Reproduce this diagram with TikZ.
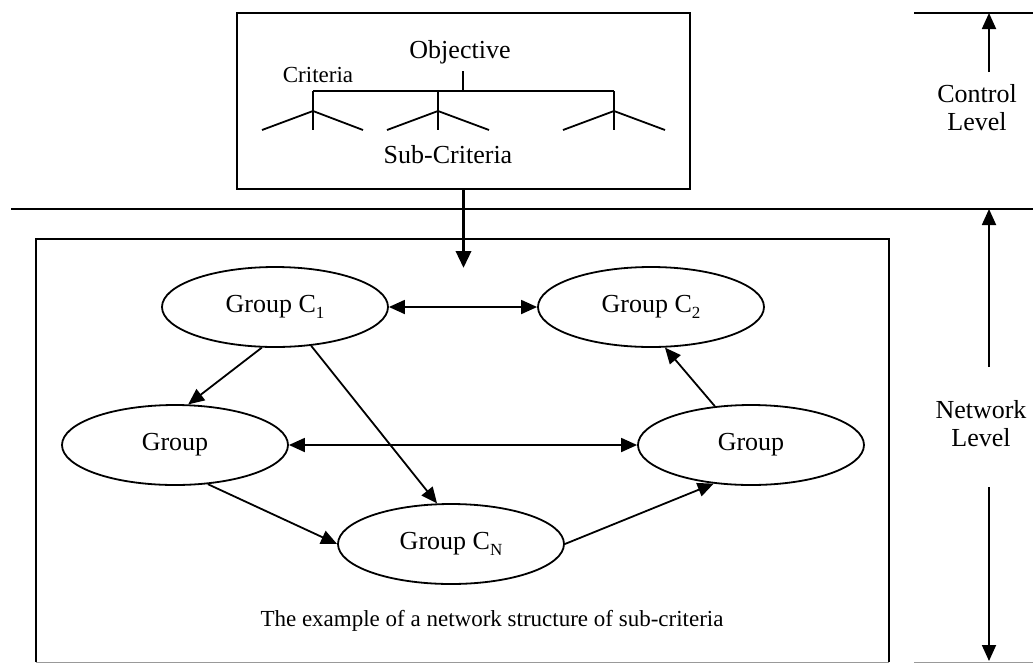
\documentclass[tikz,border=0pt]{standalone}
\usepackage{fontspec}
\setmainfont{Liberation Serif}
\usetikzlibrary{shapes.geometric,arrows.meta}
\definecolor{edgegray}{gray}{0.6}
\tikzset{
  ln/.style={line width=1.8pt, line cap=butt},
  tip/.tip={Triangle[length=16pt,width=14pt]},
  arr/.style={ln, -tip},
  darr/.style={ln, tip-tip},
  grp/.style={ellipse, draw, line width=1.8pt, inner sep=0pt, minimum width=226pt, minimum height=80pt, font=\fontsize{26}{28}\selectfont},
  box/.style={draw, line width=1.8pt, inner sep=0pt},
  big/.style={font=\fontsize{26}{28}\selectfont, inner sep=0pt, align=center},
  small/.style={font=\fontsize{23}{25}\selectfont, inner sep=0pt},
}
\newcommand{\sub}[1]{\raisebox{-6pt}{\fontsize{17}{17}\selectfont #1}}
\begin{document}
\begin{tikzpicture}[x=1pt,y=-1pt]
\useasboundingbox (0,0) rectangle (1033,662);
% control box
\node[box, minimum width=453pt, minimum height=176pt] (ctrl) at (463.5,101) {};
% network box (its bottom edge is cut by the picture's edge)
\coordinate (n1) at (36,662); \coordinate (n2) at (36,239);
\coordinate (n3) at (889,239); \coordinate (n4) at (889,662);
\draw[ln] (n1) -- (n2) -- (n3) -- (n4);
\draw[line width=1pt, edgegray] (n1) -- (n4);
% level lines
\coordinate (t1) at (914,13); \coordinate (t2) at (1033,13);
\coordinate (m1) at (11,209); \coordinate (m2) at (1033,209);
\coordinate (b1) at (914,662); \coordinate (b2) at (1033,662);
\draw[ln] (t1) -- (t2);
\draw[ln] (m1) -- (m2);
\draw[line width=1pt, edgegray] (b1) -- (b2);
% tree
\node[big] (obj) at (460,52) {Objective};
\node[small] (crit) at (318,75) {Criteria};
\node[big] (subc) at (448,155) {Sub-Criteria};
\draw[ln] (463,71) -- (463,91);
\draw[ln] (313,91) -- (614,91);
\foreach \x/\l/\r in {313/262/363, 438/387/489, 614/563/665}{
  \draw[ln] (\x,91) -- (\x,130);
  \draw[ln] (\l,130) -- (\x,111) -- (\r,130);
}
% thick arrow
\coordinate (ta) at (463.5,268);
\draw[line width=3.5pt, -{Triangle[length=17pt,width=15pt]}] (ctrl.south) -- (ta);
% groups
\node[grp] (C1) at (275,307) {Group C\sub{1}};
\node[grp] (C2) at (651,307) {Group C\sub{2}};
\node[grp] (LG) at (175,445) {Group};
\node[grp] (RG) at (751,445) {Group};
\node[grp] (CN) at (451,544) {Group C\sub{N}};
\draw[darr] (C1.east) -- (C2.west);
\draw[darr] (LG.east) -- (RG.west);
\draw[arr] (C1.252) -- (LG.72);
\draw[arr] (C1.313) -- (CN.109);
\draw[arr] (LG.310) -- (CN.west);
\draw[arr] (CN.east) -- (RG.226);
\draw[arr] (RG.133) -- (C2.289);
\node[small] (cap) at (492,621) {The example of a network structure of sub-criteria};
% level labels
\node[big] (cl) at (977,108) {Control\\Level};
\node[big] (nl) at (981,424) {Network\\Level};
\coordinate (a1s) at (989,72); \coordinate (a1e) at (989,13);
\coordinate (a2s) at (989,367); \coordinate (a2e) at (989,209);
\coordinate (a3s) at (989,487); \coordinate (a3e) at (989,661);
\draw[arr] (a1s) -- (a1e);
\draw[arr] (a2s) -- (a2e);
\draw[arr] (a3s) -- (a3e);
\end{tikzpicture}
\end{document}
